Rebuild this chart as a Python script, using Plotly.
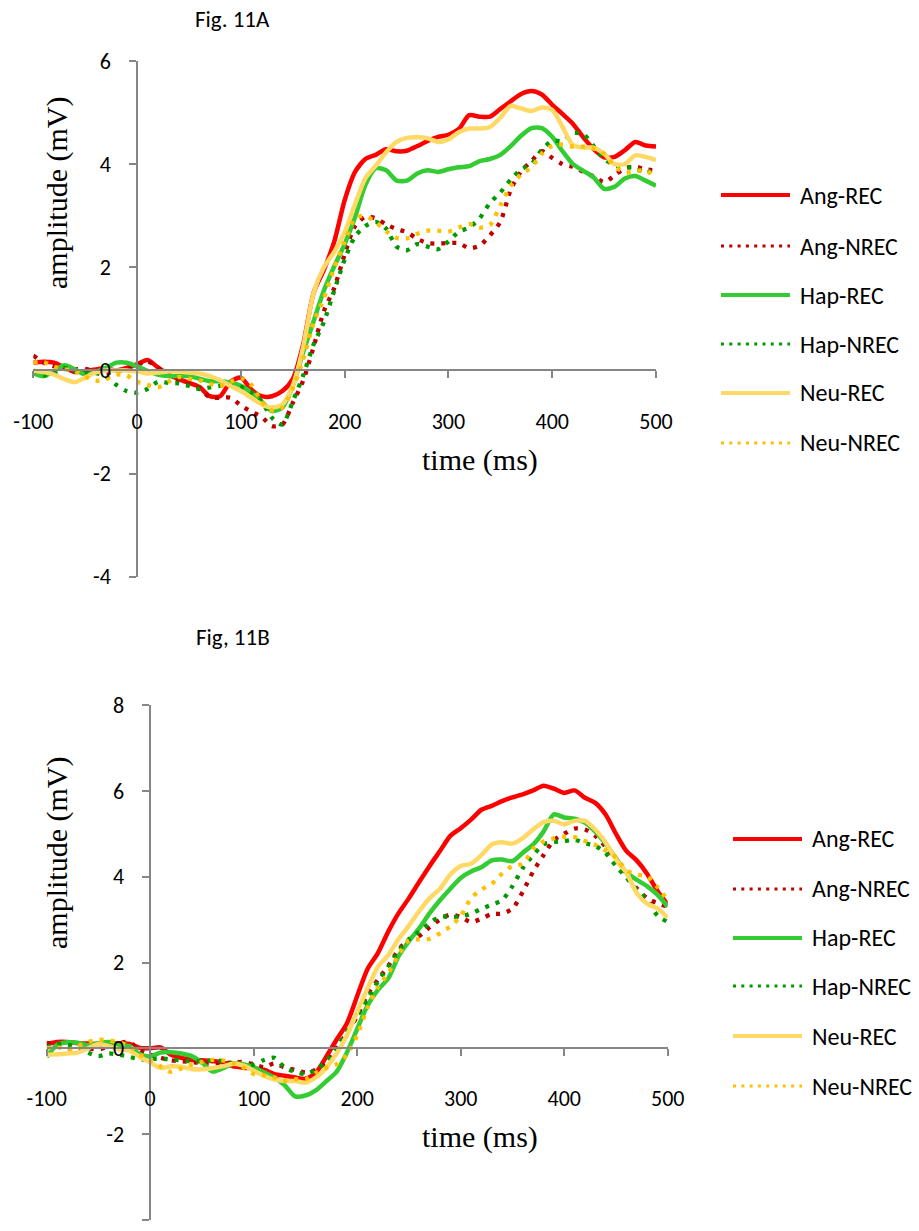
import plotly.graph_objects as go

# ---------------- data ----------------
TIME = list(range(-100, 501, 10))  # ms
SERIES = ["Ang-REC", "Ang-NREC", "Hap-REC", "Hap-NREC", "Neu-REC", "Neu-NREC"]

# Fig. 11A
A_ANG_REC = [0.15, 0.17, 0.15, 0.06, -0.03, -0.01, 0.02, 0.04, 0.0, 0.05,
             0.12, 0.2, 0.06, -0.08, -0.17, -0.24, -0.32, -0.5, -0.5, -0.22,
             -0.14, -0.37, -0.5, -0.5, -0.4, -0.17, 0.5, 1.5, 1.95, 2.5,
             3.3, 3.85, 4.1, 4.18, 4.29, 4.25, 4.26, 4.35, 4.45, 4.53,
             4.57, 4.68, 4.95, 4.92, 4.92, 5.07, 5.22, 5.36, 5.42, 5.35,
             5.15, 4.97, 4.78, 4.52, 4.29, 4.13, 4.14, 4.27, 4.43, 4.36, 4.34]
A_ANG_NREC = [0.29, 0.15, 0.08, 0.04, 0.02, 0.03, -0.02, -0.05, -0.02, 0.02,
              0.1, 0.18, 0.05, -0.1, -0.2, -0.27, -0.34, -0.52, -0.53, -0.53,
              -0.68, -0.8, -0.9, -1.08, -1.05, -0.63, -0.2, 0.45, 1.15, 1.6,
              2.25, 2.8, 2.98, 2.95, 2.83, 2.74, 2.68, 2.55, 2.47, 2.46,
              2.47, 2.47, 2.37, 2.42, 2.62, 2.88, 3.5, 3.86, 4.06, 4.25,
              4.12, 4.0, 3.95, 3.85, 3.76, 3.65, 3.78, 3.92, 3.95, 3.9, 3.88]
A_HAP_REC = [-0.06, -0.11, -0.01, 0.1, 0.02, -0.08, -0.03, 0.05, 0.15, 0.15,
             0.08, -0.01, -0.08, -0.11, -0.11, -0.11, -0.16, -0.21, -0.21, -0.24,
             -0.3, -0.43, -0.6, -0.79, -0.72, -0.3, 0.35, 0.95, 1.55, 2.02,
             2.45, 2.97, 3.6, 3.92, 3.88, 3.68, 3.68, 3.82, 3.88, 3.85,
             3.9, 3.94, 3.96, 4.06, 4.1, 4.18, 4.35, 4.55, 4.7, 4.7,
             4.53, 4.25, 4.0, 3.87, 3.74, 3.52, 3.56, 3.72, 3.77, 3.68, 3.58]
A_HAP_NREC = [0.0, -0.1, -0.05, 0.05, -0.02, -0.05, -0.05, -0.12, -0.28, -0.4,
              -0.43, -0.36, -0.22, -0.24, -0.25, -0.3, -0.36, -0.33, -0.3, -0.3,
              -0.32, -0.42, -0.6, -0.92, -1.05, -0.6, -0.1, 0.5, 0.94, 1.55,
              2.15, 2.6, 2.8, 2.88, 2.75, 2.4, 2.33, 2.45, 2.4, 2.35,
              2.5, 2.69, 2.77, 2.95, 3.25, 3.45, 3.7, 3.9, 4.0, 4.28,
              4.45, 4.45, 4.6, 4.58, 4.35, 4.1, 3.98, 3.95, 3.92, 3.83, 3.92]
A_NEU_REC = [-0.01, -0.03, -0.08, -0.17, -0.23, -0.14, -0.04, 0.0, 0.0, 0.0,
             -0.02, -0.06, -0.04, -0.02, -0.02, -0.04, -0.06, -0.11, -0.19, -0.3,
             -0.4, -0.53, -0.66, -0.72, -0.66, -0.3, 0.45, 1.5, 2.0, 2.3,
             2.68, 3.22, 3.73, 3.97, 4.23, 4.43, 4.51, 4.52, 4.5, 4.43,
             4.48, 4.62, 4.69, 4.69, 4.72, 4.9, 5.13, 5.08, 5.03, 5.1,
             5.05, 4.72, 4.37, 4.32, 4.32, 4.2, 4.0, 4.0, 4.17, 4.14, 4.08]
A_NEU_NREC = [0.15, 0.16, 0.07, 0.02, -0.01, -0.12, -0.2, -0.17, -0.08, -0.1,
              -0.22, -0.28, -0.33, -0.22, -0.13, -0.16, -0.19, -0.26, -0.3, -0.22,
              -0.15, -0.28, -0.6, -0.78, -0.72, -0.35, 0.21, 0.92, 1.4, 1.99,
              2.5, 2.95, 3.0, 2.87, 2.7, 2.57, 2.56, 2.65, 2.71, 2.71,
              2.69, 2.77, 2.84, 2.77, 2.82, 3.2, 3.58, 3.8, 3.94, 4.2,
              4.36, 4.38, 4.34, 4.34, 4.3, 4.2, 3.95, 3.84, 3.86, 3.88, 3.75]

# Fig. 11B
B_ANG_REC = [0.1, 0.15, 0.15, 0.12, 0.11, 0.1, 0.1, 0.12, 0.1, 0.01,
             0.0, 0.02, -0.15, -0.22, -0.27, -0.28, -0.3, -0.33, -0.42, -0.45,
             -0.47, -0.5, -0.6, -0.64, -0.68, -0.71, -0.57, -0.2, 0.2, 0.58,
             1.22, 1.85, 2.22, 2.72, 3.15, 3.5, 3.88, 4.25, 4.6, 4.95,
             5.13, 5.33, 5.56, 5.65, 5.76, 5.85, 5.92, 6.01, 6.12, 6.05,
             5.95, 6.01, 5.84, 5.72, 5.45, 5.0, 4.6, 4.38, 4.07, 3.67, 3.35]
B_ANG_NREC = [0.13, 0.05, 0.0, 0.02, 0.0, -0.03, 0.05, 0.12, 0.15, -0.05,
              -0.15, -0.22, -0.28, -0.3, -0.32, -0.34, -0.36, -0.35, -0.33, -0.32,
              -0.37, -0.44, -0.35, -0.45, -0.5, -0.56, -0.5, -0.33, 0.0, 0.35,
              0.75, 1.25, 1.6, 1.92, 2.3, 2.54, 2.62, 2.82, 3.0, 3.12,
              3.06, 2.94, 3.02, 3.13, 3.14, 3.25, 3.65, 4.12, 4.5, 4.85,
              5.0, 5.12, 5.1, 4.95, 4.7, 4.4, 4.05, 3.73, 3.5, 3.38, 3.3]
B_HAP_REC = [-0.2, 0.08, 0.14, 0.13, 0.07, 0.12, 0.15, 0.07, 0.05, -0.14,
             -0.19, -0.1, -0.09, -0.12, -0.18, -0.33, -0.54, -0.47, -0.36, -0.37,
             -0.44, -0.56, -0.68, -0.86, -1.12, -1.1, -0.98, -0.77, -0.55, -0.1,
             0.45, 1.0, 1.36, 1.63, 2.15, 2.5, 2.8, 3.15, 3.45, 3.72,
             3.97, 4.12, 4.22, 4.38, 4.4, 4.36, 4.56, 4.75, 5.05, 5.45,
             5.38, 5.35, 5.26, 5.05, 4.77, 4.43, 4.1, 3.93, 3.78, 3.58, 3.3]
B_HAP_NREC = [0.03, 0.1, 0.08, 0.05, -0.1, -0.18, -0.12, -0.15, -0.2, -0.26,
              -0.25, -0.24, -0.26, -0.28, -0.3, -0.3, -0.28, -0.3, -0.35, -0.4,
              -0.38, -0.27, -0.22, -0.45, -0.55, -0.6, -0.5, -0.3, 0.0, 0.4,
              0.75, 1.15, 1.55, 1.9, 2.27, 2.54, 2.72, 2.92, 3.07, 3.06,
              3.07, 3.14, 3.25, 3.35, 3.45, 3.78, 4.2, 4.5, 4.75, 4.81,
              4.83, 4.86, 4.78, 4.72, 4.55, 4.25, 3.98, 3.7, 3.45, 3.1, 2.95]
B_NEU_REC = [-0.15, -0.14, -0.12, -0.1, 0.0, 0.1, 0.05, -0.02, -0.06, -0.2,
             -0.33, -0.46, -0.42, -0.43, -0.48, -0.49, -0.46, -0.42, -0.36, -0.4,
             -0.52, -0.64, -0.73, -0.76, -0.76, -0.8, -0.68, -0.45, -0.12, 0.3,
             0.85, 1.4, 1.9, 2.17, 2.55, 2.86, 3.2, 3.5, 3.72, 4.05,
             4.25, 4.3, 4.5, 4.75, 4.8, 4.77, 4.9, 5.1, 5.27, 5.3,
             5.22, 5.3, 5.3, 5.1, 4.8, 4.4, 4.1, 3.62, 3.37, 3.26, 3.04]
B_NEU_NREC = [0.0, 0.03, -0.03, 0.05, 0.15, 0.2, 0.18, 0.14, 0.05, -0.15,
              -0.28, -0.42, -0.55, -0.47, -0.38, -0.32, -0.27, -0.28, -0.34, -0.45,
              -0.6, -0.63, -0.68, -0.75, -0.72, -0.72, -0.57, -0.46, -0.37, -0.15,
              0.3, 0.95, 1.42, 1.75, 2.18, 2.52, 2.54, 2.55, 2.68, 2.84,
              3.08, 3.5, 3.7, 3.83, 4.07, 4.25, 4.3, 4.65, 4.82, 4.89,
              4.93, 4.92, 4.83, 4.74, 4.61, 4.45, 4.15, 4.05, 4.01, 3.76, 3.45]

X_TICKS = [-100, 0, 100, 200, 300, 400, 500]
X_TICK_TEXT = ["-100", "0", "100", "200", "300", "400", "500"]
A_Y_TICKS = [-4, -2, 0, 2, 4, 6]
A_Y_TICK_TEXT = ["-4", "-2", "0", "2", "4", "6"]
B_Y_TICKS = [-4, -2, 0, 2, 4, 6, 8]
B_Y_TICK_TEXT = ["-4", "-2", "0", "2", "4", "6", "8"]

TITLE_A = "Fig. 11A"
TITLE_B = "Fig, 11B"
X_TITLE = "time (ms)"
Y_TITLE = "amplitude (mV)"

# ---------------- style ----------------
W, H = 919, 1231
COLORS = ["#FF0000", "#C00000", "#33CC33", "#009A00", "#FFD966", "#FFC000"]
SOLID = [True, False, True, False, True, False]
AXIS_COLOR = "#868686"
SANS = "Carlito, Calibri, Lato, sans-serif"
SERIF = "Liberation Serif, Times New Roman, serif"


def fx(p):
    return p / W


def fy(p):
    return 1 - p / H


def cross(dom, rng):
    return dom[0] + (0 - rng[0]) / (rng[1] - rng[0]) * (dom[1] - dom[0])


panels = [
    dict(xa="x", ya="y", data=[A_ANG_REC, A_ANG_NREC, A_HAP_REC, A_HAP_NREC, A_NEU_REC, A_NEU_NREC],
         xdom=[fx(33.3), fx(656)], ydom=[fy(576.7), fy(61)], yrange=[-4, 6],
         yt=A_Y_TICKS, ytt=A_Y_TICK_TEXT, title=TITLE_A, title_xy=(233, 19),
         xt_xy=(480, 460), yt_xy=(57, 193),
         leg_x=(721, 790, 798), leg_y=[195, 246, 295, 344, 393, 443]),
    dict(xa="x2", ya="y2", data=[B_ANG_REC, B_ANG_NREC, B_HAP_REC, B_HAP_NREC, B_NEU_REC, B_NEU_NREC],
         xdom=[fx(46.7), fx(667.7)], ydom=[fy(1220), fy(705)], yrange=[-4, 8],
         yt=B_Y_TICKS, ytt=B_Y_TICK_TEXT, title=TITLE_B, title_xy=(233, 637),
         xt_xy=(480, 1137), yt_xy=(57, 853),
         leg_x=(733, 802, 810), leg_y=[839, 889, 938, 986, 1036, 1086]),
]

fig = go.Figure()
layout = dict(width=W, height=H, autosize=False, margin=dict(l=0, r=0, t=0, b=0),
              paper_bgcolor="white", plot_bgcolor="rgba(0,0,0,0)", showlegend=False)
shapes, annotations = [], []
xrange_ = [-100, 500]

for k, p in enumerate(panels):
    for name, vals, col, solid in zip(SERIES, p["data"], COLORS, SOLID):
        fig.add_trace(go.Scatter(
            x=TIME, y=vals, name=name, xaxis=p["xa"], yaxis=p["ya"], mode="lines",
            line=dict(color=col, width=4.5 if solid else 4.3,
                      dash="solid" if solid else "4px,7px",
                      shape="spline", smoothing=0.7),
            hoverinfo="skip"))
    suffix = "" if k == 0 else "2"
    common = dict(showline=True, linecolor=AXIS_COLOR, linewidth=1.5, ticks="outside",
                  ticklen=7, tickcolor=AXIS_COLOR, tickwidth=1.5, showgrid=False,
                  zeroline=False, automargin=False, tickmode="array",
                  tickfont=dict(family=SANS, size=22, color="black"))
    layout["xaxis" + suffix] = dict(
        common, domain=p["xdom"], range=xrange_, anchor="free",
        position=cross(p["ydom"], p["yrange"]), tickvals=X_TICKS, ticktext=X_TICK_TEXT,
        side="bottom", ticklabelstandoff=24)
    layout["yaxis" + suffix] = dict(
        common, domain=p["ydom"], range=p["yrange"], anchor="free",
        position=cross(p["xdom"], xrange_), tickvals=p["yt"], ticktext=p["ytt"],
        side="left", ticklabelstandoff=14)

    annotations.append(dict(text=p["title"], x=fx(p["title_xy"][0]), y=fy(p["title_xy"][1]),
                            xref="paper", yref="paper", showarrow=False,
                            xanchor="center", yanchor="middle",
                            font=dict(family=SANS, size=23, color="black")))
    annotations.append(dict(text=X_TITLE, x=fx(p["xt_xy"][0]), y=fy(p["xt_xy"][1]),
                            xref="paper", yref="paper", showarrow=False,
                            xanchor="center", yanchor="middle",
                            font=dict(family=SERIF, size=30, color="black")))
    annotations.append(dict(text=Y_TITLE, x=fx(p["yt_xy"][0]), y=fy(p["yt_xy"][1]),
                            xref="paper", yref="paper", showarrow=False, textangle=-90,
                            xanchor="center", yanchor="middle",
                            font=dict(family=SERIF, size=30, color="black")))
    # legend
    lx0, lx1, tx = p["leg_x"]
    for name, col, solid, ly in zip(SERIES, COLORS, SOLID, p["leg_y"]):
        shapes.append(dict(type="line", xref="paper", yref="paper",
                           x0=fx(lx0), x1=fx(lx1), y0=fy(ly), y1=fy(ly),
                           line=dict(color=col, width=4 if solid else 3,
                                     dash="solid" if solid else "3px,5.3px")))
        annotations.append(dict(text=name, x=fx(tx), y=fy(ly), xref="paper", yref="paper",
                                showarrow=False, xanchor="left", yanchor="middle",
                                font=dict(family=SANS, size=24, color="black")))

layout["shapes"] = shapes
layout["annotations"] = annotations
fig.update_layout(**layout)
fig.write_html("out.html")
